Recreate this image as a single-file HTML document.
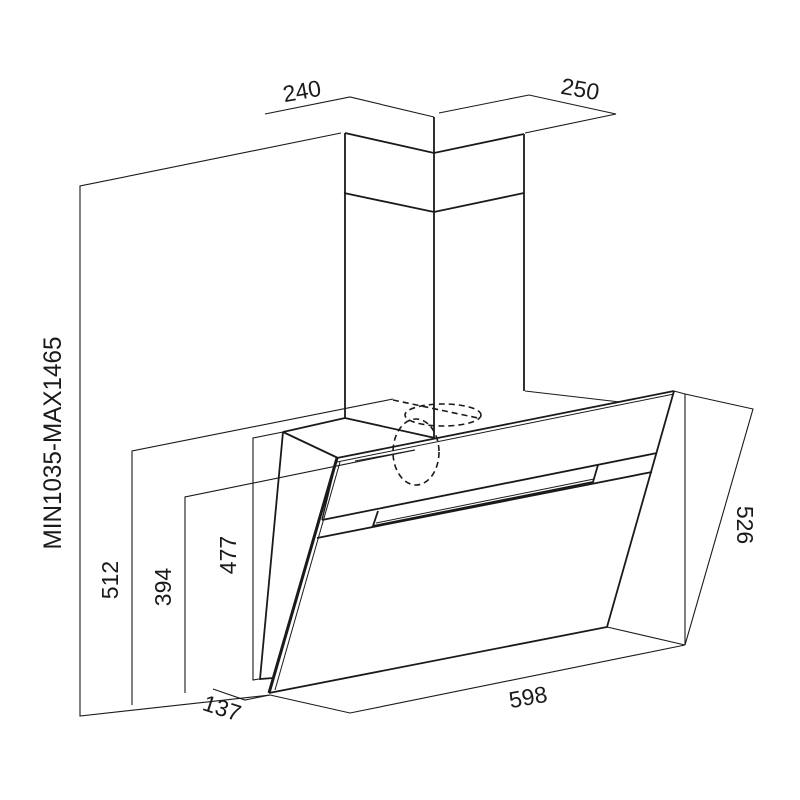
<!DOCTYPE html>
<html><head><style>html,body{margin:0;padding:0;background:#fff}svg{display:block}</style></head>
<body>
<svg width="800" height="800" viewBox="0 0 800 800" xmlns="http://www.w3.org/2000/svg" font-family="Liberation Sans, sans-serif" fill="none" stroke="#1a1a1a">
<!-- dimension lines (thin) -->
<g stroke-width="1.1">
<polyline points="265,114 350,97 434,117"/>
<polyline points="439,113 529,95 616,114 525,133"/>
<polyline points="341,133 80,186 80,716 270,695"/>
<polyline points="393,399 132,451 132,705"/>
<polyline points="415,450 185,497 185,693"/>
<polyline points="283,432 253,438 253,680 259,679"/>
<polyline points="213,689 245,700 270,695"/>
<polyline points="270,695 350,713 685,645"/>
<polyline points="685,394 753,409 685,645"/>
<line x1="685" y1="394" x2="685" y2="645"/>
<line x1="674" y1="391" x2="685" y2="394"/>
<line x1="607" y1="627" x2="685" y2="645"/>
<line x1="525" y1="391" x2="620" y2="402"/>
</g>
<!-- chimney -->
<g stroke-width="1.8">
<polyline points="345,133 345,418"/>
<polyline points="434,117 434,438"/>
<polyline points="524,134 524,391"/>
<polyline points="345,133 434,153 524,134"/>
<polyline points="344,193 434,212 524,193"/>
<line x1="345" y1="418" x2="435" y2="438"/>
</g>
<!-- hood -->
<g stroke-width="1.8">
<polyline points="283,432 345,418"/>
<polyline points="283,432 338,458"/>
<polyline points="283,432 260,679 273,678"/>
<polyline points="337,458 674,391"/>
<polyline points="337,462 674,394" stroke-width="1"/>
<polyline points="674,391 607,627 269,693"/>
<polyline points="322,520 657,453"/>
<polyline points="317,538 652,472"/>
<polyline points="378,511 373,526 593,482 598,465"/>
<line x1="376" y1="523" x2="594" y2="479" stroke-width="1"/>
<line x1="337" y1="458" x2="322" y2="520" stroke-width="1.4"/>
<line x1="340" y1="462" x2="275" y2="690" stroke-width="1"/>
</g>
<line x1="337" y1="458" x2="269" y2="693" stroke-width="3"/>
<!-- dashed -->
<g stroke-width="1.6" stroke-dasharray="6,4">
<ellipse cx="443" cy="415" rx="38" ry="11"/>
<ellipse cx="416" cy="452" rx="23" ry="33"/>
<line x1="393" y1="400" x2="478" y2="418"/>
</g>
<line x1="355" y1="461" x2="415" y2="450" stroke-width="1"/>
<!-- labels -->
<g fill="#1a1a1a" stroke="none" font-size="23">
<text x="302" y="99" text-anchor="middle" transform="rotate(-10 302 92)">240</text>
<text x="580" y="97" text-anchor="middle" transform="rotate(10 580 90)">250</text>
<text x="528" y="705" text-anchor="middle" transform="rotate(-10 528 697)">598</text>
<text x="222" y="716" text-anchor="middle" transform="rotate(18 222 708)">137</text>
<text x="745" y="533" text-anchor="middle" transform="rotate(90 745 525)">526</text>
<text x="110" y="588" text-anchor="middle" transform="rotate(-90 110 580)">512</text>
<text x="163" y="595" text-anchor="middle" transform="rotate(-90 163 587)">394</text>
<text x="228" y="563" text-anchor="middle" transform="rotate(-90 228 555)">477</text>
<text x="52" y="452" text-anchor="middle" font-size="25" textLength="213" lengthAdjust="spacingAndGlyphs" transform="rotate(-90 52 443)">MIN1035-MAX1465</text>
</g>
</svg>
</body></html>
